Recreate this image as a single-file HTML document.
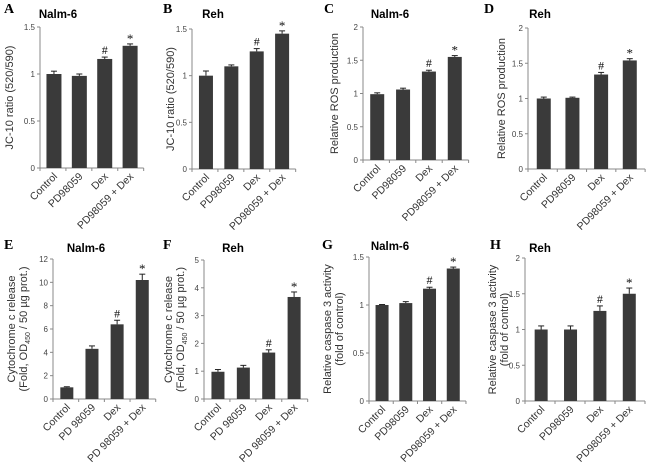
<!DOCTYPE html>
<html><head><meta charset="utf-8"><style>
body{margin:0;background:#fff;}
svg{display:block;font-family:"Liberation Sans",Arial,sans-serif;}
</style></head><body>
<svg id="fig" width="650" height="469" viewBox="0 0 650 469"></svg>
<script>
const catsA=["Control","PD98059","Dex","PD98059 + Dex"];
const catsE=["Control","PD 98059","Dex","PD 98059 + Dex"];
const valsA=[1.0,0.98,1.16,1.30], errA=[0.03,0.02,0.02,0.02];
const valsB=[1.0,1.10,1.26,1.45], errB=[0.05,0.015,0.03,0.03];
const valsC=[0.99,1.06,1.33,1.55], errC=[0.02,0.02,0.02,0.02];
const valsD=[1.0,1.01,1.34,1.54], errD=[0.02,0.01,0.03,0.025];
const valsE=[1.0,4.3,6.4,10.2], errE=[0.05,0.25,0.35,0.5];
const valsF=[0.98,1.13,1.67,3.67], errF=[0.08,0.08,0.1,0.18];
const valsG=[1.0,1.02,1.17,1.38], errG=[0.005,0.015,0.015,0.015];
const valsH=[1.0,1.0,1.26,1.50], errH=[0.05,0.05,0.07,0.08];
const marksStd=["","","#","*"];
const ticksA=["0","0.5","1","1.5"], ticksC=["0","0.5","1","1.5","2"];
const ticksE=["0","2","4","6","8","10","12"], ticksF=["0","1","2","3","4","5"];

const NS="http://www.w3.org/2000/svg";
const svg=document.getElementById('fig');
function mk(t,a,p){const e=document.createElementNS(NS,t);for(const k in a)e.setAttribute(k,a[k]);(p||svg).appendChild(e);return e;}

const panels=[
 {id:'a',letter:'A',lx:4,ly:13,title:'Nalm-6',tx:58,ty:18,x0:40,x1:148,y0:168,y1:27,max:1.5,ticks:ticksA,cats:catsA,vals:valsA,err:errA,yt:['JC-10 ratio (520/590)'],ytx:13,bw:15},
 {id:'b',letter:'B',lx:163,ly:13,title:'Reh',tx:213,ty:18,x0:192,x1:300,y0:169,y1:29,max:1.5,ticks:ticksA,cats:catsA,vals:valsB,err:errB,yt:['JC-10 ratio (520/590)'],ytx:174,bw:14},
 {id:'c',letter:'C',lx:324,ly:13,title:'Nalm-6',tx:390,ty:18,x0:363,x1:473,y0:160,y1:27,max:2,ticks:ticksC,cats:catsA,vals:valsC,err:errC,yt:['Relative ROS production'],ytx:338,bw:14},
 {id:'d',letter:'D',lx:484,ly:13,title:'Reh',tx:540,ty:18,x0:528,x1:650,y0:169,y1:28,max:2,ticks:ticksC,cats:catsA,vals:valsD,err:errD,yt:['Relative ROS production'],ytx:505,bw:14},
 {id:'e',letter:'E',lx:4,ly:249,title:'Nalm-6',tx:86,ty:252,x0:53,x1:160,y0:399,y1:259,max:12,ticks:ticksE,cats:catsE,vals:valsE,err:errE,yt:['Cytochrome c release','(Fold, OD450 / 50 µg prot.)'],ytx:15,bw:13},
 {id:'f',letter:'F',lx:163,ly:249,title:'Reh',tx:233,ty:252,x0:204,x1:312,y0:399,y1:260,max:5,ticks:ticksF,cats:catsE,vals:valsF,err:errF,yt:['Cytochrome c release','(Fold, OD450 / 50 µg prot.)'],ytx:172,bw:13},
 {id:'g',letter:'G',lx:322,ly:249,title:'Nalm-6',tx:390,ty:250,x0:369,x1:470,y0:401,y1:257,max:1.5,ticks:ticksA,cats:catsA,vals:valsG,err:errG,yt:['Relative caspase 3 activity','(fold of control)'],ytx:331,bw:13},
 {id:'h',letter:'H',lx:490,ly:249,title:'Reh',tx:540,ty:252,x0:525,x1:650,y0:401,y1:258,max:2,ticks:ticksC,cats:catsA,vals:valsH,err:errH,yt:['Relative caspase 3 activity','(fold of control)'],ytx:496,bw:13}
];
panels.forEach(p=>{
 const g=mk('g',{});
 
 
 const y=v=>p.y0-(v/p.max)*(p.y0-p.y1);
 const n=p.cats.length, span=(p.x1-p.x0);
 const cx=i=>p.x0+span*((i+0.55)/n)*0.94;
 const L=mk('text',{x:p.lx,y:p.ly,'font-family':'Liberation Serif,serif','font-weight':'bold','font-size':14,fill:'#000'},g);L.textContent=p.letter;
 
 
 const T=mk('text',{x:p.tx,y:p.ty,'text-anchor':'middle','font-weight':'bold','font-size':11.5,fill:'#000'},g);T.textContent=p.title;
 
 
 const ax=mk('line',{x1:p.x0,y1:p.y1,x2:p.x0,y2:p.y0,stroke:'#888','stroke-width':1},g);
 
 
 const bx=mk('line',{x1:p.x0,y1:p.y0,x2:p.x0+span*0.96,y2:p.y0,stroke:'#888','stroke-width':1},g);
 
 
 p.ticks.forEach(t=>{
  const yy=y(parseFloat(t));
  mk('line',{x1:p.x0-3,y1:yy,x2:p.x0,y2:yy,stroke:'#888'},g);
  const tt=mk('text',{x:p.x0-5,y:yy+3,'text-anchor':'end','font-size':8,fill:'#444'},g);tt.textContent=t;
  
  
 });
 for(let i=0;i<=n;i++){const xx=p.x0+span*0.96*i/n;mk('line',{x1:xx,y1:p.y0,x2:xx,y2:p.y0+3,stroke:'#888'},g);}
 const yt=mk('text',{transform:`translate(${p.ytx},${(p.y0+p.y1)/2}) rotate(-90)`,'text-anchor':'middle','font-size':11,fill:'#333'},g);
 
 
 p.yt.forEach((s,k)=>{const ts=mk('tspan',{x:0,dy:k?12:0},yt);
  if(s.includes('OD450')){ts.textContent='(Fold, OD';const sub=mk('tspan',{'font-size':7,dy:3},ts);sub.textContent='450';const r=mk('tspan',{dy:-3},ts);r.textContent=' / 50 µg prot.)';}
  else ts.textContent=s;});
 p.vals.forEach((v,i)=>{
  const c=cx(i), top=y(v);
  const b=mk('rect',{x:c-p.bw/2,y:top,width:p.bw,height:p.y0-top,fill:'#3a3a3a'},g);
  
  
  const et=y(v+p.err[i]);
  mk('line',{x1:c,y1:top,x2:c,y2:et,stroke:'#222'},g);
  mk('line',{x1:c-3,y1:et,x2:c+3,y2:et,stroke:'#222'},g);
  if(marksStd[i]){const m=mk('text',{x:c,y:et-(marksStd[i]=='*'?1:3),'text-anchor':'middle','font-size':marksStd[i]=='*'?13:12,'font-family':'Liberation Serif,serif',fill:'#111'},g);m.textContent=marksStd[i];
   
   }
  const xl=mk('text',{transform:`translate(${c+4},${p.y0+9}) rotate(-45)`,'text-anchor':'end','font-size':10.5,fill:'#333'},g);xl.textContent=p.cats[i];
  
  
 });
});
</script>
</body></html>
